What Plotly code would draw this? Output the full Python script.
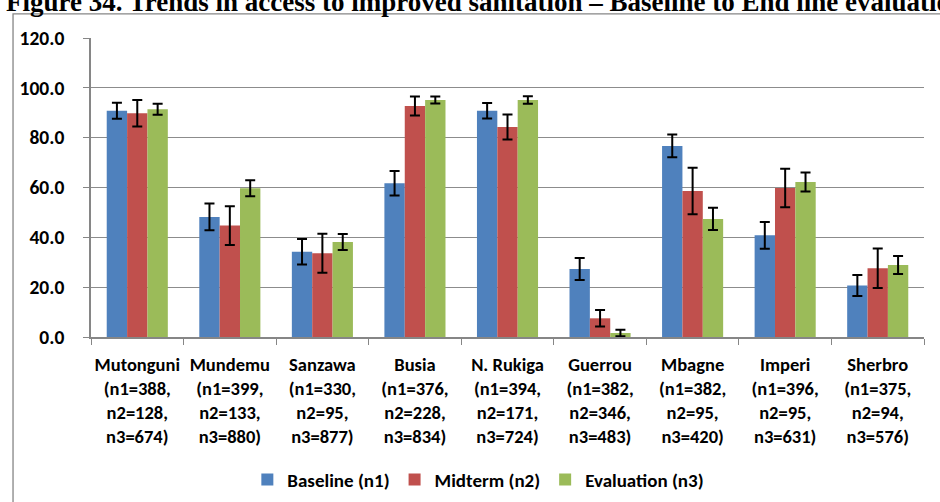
import plotly.graph_objects as go

sites = ["Mutonguni", "Mundemu", "Sanzawa", "Busia", "N. Rukiga",
         "Guerrou", "Mbagne", "Imperi", "Sherbro"]
n1 = [388, 399, 330, 376, 394, 382, 382, 396, 375]
n2 = [128, 133, 95, 228, 171, 346, 95, 95, 94]
n3 = [674, 880, 877, 834, 724, 483, 420, 631, 576]

baseline = [90.8, 48.2, 34.2, 61.7, 90.8, 27.3, 76.7, 40.8, 20.7]
midterm = [89.8, 44.7, 33.6, 92.7, 84.3, 7.5, 58.6, 59.8, 27.6]
evaluation = [91.4, 59.7, 38.1, 95.1, 95.1, 1.6, 47.4, 62.2, 28.9]

baseline_err = [3.2, 5.4, 5.1, 4.9, 3.1, 4.4, 4.6, 5.4, 4.2]
midterm_err = [5.3, 7.8, 7.8, 3.8, 5.0, 3.3, 9.3, 7.7, 7.9]
evaluation_err = [2.2, 3.2, 3.2, 1.4, 1.5, 1.3, 4.5, 3.8, 3.6]

series_names = ["Baseline (n1)", "Midterm (n2)", "Evaluation (n3)"]
colors = ["#4F81BD", "#C0504D", "#9BBB59"]

title_text = "Figure 34. Trends in access to improved sanitation \u2013 Baseline to End line evaluation"

categories = [f"{s}<br>(n1={a},<br>n2={b},<br>n3={c})" for s, a, b, c in zip(sites, n1, n2, n3)]

FONT = "Carlito, Lato, sans-serif"

fig = go.Figure()
for name, vals, errs, col in zip(series_names, [baseline, midterm, evaluation],
                                 [baseline_err, midterm_err, evaluation_err], colors):
    fig.add_trace(go.Bar(
        x=categories, y=vals, name=name,
        marker=dict(color=col, line=dict(width=0)),
        error_y=dict(type="data", array=errs, visible=True,
                     color="black", thickness=2, width=5),
    ))

fig.update_layout(
    width=940, height=502,
    margin=dict(l=91, r=16, t=38, b=165, autoexpand=False),
    paper_bgcolor="white", plot_bgcolor="white",
    barmode="group", bargap=0.34, bargroupgap=0,
    font=dict(family=FONT, size=18, color="black", weight="bold"),
    showlegend=True,
    legend=dict(orientation="h", x=0.465, xanchor="center", y=-0.477, yanchor="middle",
                font=dict(family=FONT, size=19, color="black", weight="bold"),
                bgcolor="rgba(0,0,0,0)"),
    xaxis=dict(type="category", tickson="boundaries", ticks="outside", ticklen=6,
               tickcolor="#868686", showline=True, linecolor="#868686", linewidth=1.5,
               showgrid=False, ticklabelstandoff=10, tickangle=0,
               tickfont=dict(family=FONT, size=18.5, color="black", weight="bold")),
    yaxis=dict(range=[0, 120], dtick=20, tickformat=".1f", ticks="outside", ticklen=6,
               tickcolor="#868686", showline=True, linecolor="#868686", linewidth=1.5,
               showgrid=True, gridcolor="#8c8c8c", gridwidth=1.2, zeroline=False,
               ticklabelstandoff=15,
               tickfont=dict(family=FONT, size=19.5, color="black", weight="bold")),
    shapes=[dict(type="rect", xref="paper", yref="paper",
                 x0=-0.0936, x1=1.05, y0=-0.6, y1=1.081,
                 line=dict(color="#868686", width=1.3), fillcolor="rgba(0,0,0,0)",
                 layer="below")],
    annotations=[dict(text=title_text, xref="paper", yref="paper",
                      x=-0.1046, xanchor="left", y=1.0, yanchor="bottom", yshift=19,
                      showarrow=False,
                      font=dict(family="Liberation Serif", size=27, color="black",
                                weight="bold"))],
)

fig.write_html("out.html", config={"displayModeBar": False},
               post_script="document.body.style.margin='0px';")
